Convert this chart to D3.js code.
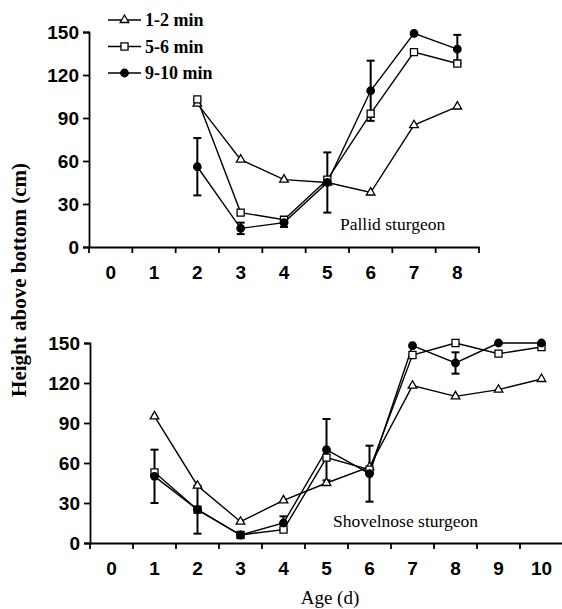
<!DOCTYPE html>
<html>
<head>
<meta charset="utf-8">
<script src="https://cdn.jsdelivr.net/npm/d3@7"></script>
<style>
  body { margin: 0; background: #fff; }
  svg { display: block; font-family: "Liberation Serif", "Times New Roman", serif; }
</style>
</head>
<body>
<div id="chart"></div>
<script>
// values
const seriesNames = ["1-2 min", "5-6 min", "9-10 min"];
const yTicks = [0, 30, 60, 90, 120, 150];

const pallidCats = [0, 1, 2, 3, 4, 5, 6, 7, 8];
const pallidAges = [2, 3, 4, 5, 6, 7, 8];
const pallid12 = [100, 61, 47, 45, 38, 85, 98];
const pallid56 = [103, 24, 19, 47, 93, 136, 128];
const pallid910 = [56, 13, 17, 45, 109, 149, 138];
const pallidErr = [20, 4, 3, 21, 21, 0, 10];

const shovelCats = [0, 1, 2, 3, 4, 5, 6, 7, 8, 9, 10];
const shovelAges = [1, 2, 3, 4, 5, 6, 7, 8, 9, 10];
const shovel12 = [95, 43, 16, 32, 45, 57, 118, 110, 115, 123];
const shovel56 = [53, 25, 6, 10, 64, 55, 141, 150, 142, 147];
const shovel910 = [50, 25, 6, 15, 70, 52, 148, 135, 150, 150];
const shovelErr = [20, 18, 0, 5, 23, 21, 0, 8, 0, 0];

const width = 562, height = 609;

const svg = d3.select("#chart").append("svg")
    .attr("width", width)
    .attr("height", height);

const markers = {
    "1-2 min": { type: d3.symbolTriangle, size: 32, fill: "#fff" },
    "5-6 min": { type: d3.symbolSquare, size: 50, fill: "#fff" },
    "9-10 min": { type: d3.symbolCircle, size: 44, fill: "#000" }
};

function drawPanel(cfg) {
    const x = d3.scaleBand().domain(cfg.cats).range(cfg.xRange).padding(0);
    const y = d3.scaleLinear().domain([0, 150]).range(cfg.yRange);
    const g = svg.append("g");
    const cx = a => x(a) + x.bandwidth() / 2;

    // y axis
    const yAx = g.append("g")
        .attr("transform", `translate(${cfg.xRange[0]},0)`)
        .call(d3.axisLeft(y).tickValues(yTicks).tickSize(6).tickPadding(4));
    yAx.selectAll("path, line").attr("stroke", "#000").attr("stroke-width", 1.8);
    yAx.selectAll("text").style("font-size", "19px").style("font-weight", "bold").attr("fill", "#000");

    // x axis, labels at category centres
    const xAx = g.append("g")
        .attr("transform", `translate(0,${cfg.yRange[0]})`)
        .call(d3.axisBottom(x).tickSize(0).tickPadding(19).tickSizeOuter(0));
    xAx.select("path").attr("stroke", "#000").attr("stroke-width", 1.8);
    xAx.selectAll("text").style("font-size", "19px").style("font-weight", "bold").attr("fill", "#000");

    // tick marks between categories
    const bounds = cfg.cats.map(c => x(c)).concat([x.range()[1]]);
    g.append("g").selectAll("line")
        .data(bounds)
        .enter().append("line")
        .attr("x1", d => d).attr("x2", d => d)
        .attr("y1", cfg.yRange[0]).attr("y2", cfg.yRange[0] + 6)
        .attr("stroke", "#000").attr("stroke-width", 1.8);

    const line = d3.line().x(d => cx(d.age)).y(d => y(d.v));

    const seriesData = [cfg.s12, cfg.s56, cfg.s910];
    seriesData.forEach((vals, i) => {
        const pts = cfg.ages.map((a, j) => ({ age: a, v: vals[j] }));
        g.append("path")
            .datum(pts)
            .attr("fill", "none")
            .attr("stroke", "#000")
            .attr("stroke-width", 1.4)
            .attr("d", line);
    });

    // error bars on 9-10 min series
    const errPts = cfg.ages.map((a, j) => ({ age: a, v: cfg.s910[j], e: cfg.err[j] }))
        .filter(d => d.e > 0);
    const eb = g.append("g").selectAll("g").data(errPts).enter().append("g")
        .attr("stroke", "#000").attr("stroke-width", 2);
    eb.append("line")
        .attr("x1", d => cx(d.age)).attr("x2", d => cx(d.age))
        .attr("y1", d => y(d.v + d.e)).attr("y2", d => y(d.v - d.e));
    eb.append("line")
        .attr("x1", d => cx(d.age) - 4).attr("x2", d => cx(d.age) + 4)
        .attr("y1", d => y(d.v + d.e)).attr("y2", d => y(d.v + d.e));
    eb.append("line")
        .attr("x1", d => cx(d.age) - 4).attr("x2", d => cx(d.age) + 4)
        .attr("y1", d => y(d.v - d.e)).attr("y2", d => y(d.v - d.e));

    seriesData.forEach((vals, i) => {
        const m = markers[seriesNames[i]];
        const pts = cfg.ages.map((a, j) => ({ age: a, v: vals[j] }));
        g.append("g").selectAll("path")
            .data(pts)
            .enter().append("path")
            .attr("d", d3.symbol().type(m.type).size(m.size))
            .attr("transform", d => `translate(${cx(d.age)},${y(d.v)})`)
            .attr("fill", m.fill)
            .attr("stroke", "#000")
            .attr("stroke-width", 1.3);
    });

    g.append("text")
        .attr("x", cfg.labelX)
        .attr("y", cfg.labelY)
        .style("font-size", "17.5px")
        .text(cfg.title);
}

drawPanel({
    cats: pallidCats, ages: pallidAges,
    s12: pallid12, s56: pallid56, s910: pallid910, err: pallidErr,
    xRange: [89, 479], yRange: [247, 32],
    title: "Pallid sturgeon", labelX: 340, labelY: 230
});

drawPanel({
    cats: shovelCats, ages: shovelAges,
    s12: shovel12, s56: shovel56, s910: shovel910, err: shovelErr,
    xRange: [90, 563], yRange: [543, 343],
    title: "Shovelnose sturgeon", labelX: 333, labelY: 527
});

// Legend
const legend = svg.append("g");
seriesNames.forEach((name, i) => {
    const ly = 20 + i * 26.5;
    const m = markers[name];
    legend.append("line")
        .attr("x1", 108).attr("x2", 141)
        .attr("y1", ly).attr("y2", ly)
        .attr("stroke", "#000").attr("stroke-width", 1.4);
    legend.append("path")
        .attr("d", d3.symbol().type(m.type).size(m.size))
        .attr("transform", `translate(124.5,${ly})`)
        .attr("fill", m.fill)
        .attr("stroke", "#000")
        .attr("stroke-width", 1.3);
    legend.append("text")
        .attr("x", 145)
        .attr("y", ly)
        .attr("dy", "0.35em")
        .style("font-size", "18px")
        .style("font-weight", "bold")
        .text(name);
});

// Axis titles
svg.append("text")
    .attr("transform", "translate(26,280) rotate(-90)")
    .attr("text-anchor", "middle")
    .attr("fill", "#000")
    .style("font-size", "21px")
    .style("font-weight", "bold")
    .text("Height above bottom (cm)");

svg.append("text")
    .attr("x", 330)
    .attr("y", 604)
    .attr("text-anchor", "middle")
    .style("font-size", "19px")
    .text("Age (d)");
</script>
</body>
</html>
